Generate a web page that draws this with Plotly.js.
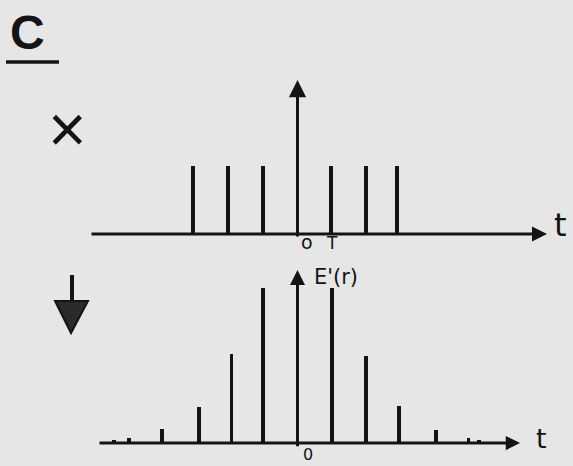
<!DOCTYPE html>
<html>
<head>
<meta charset="utf-8">
<script src="https://cdn.plot.ly/plotly-3.0.1.min.js"></script>
<style>
  html, body { margin: 0; padding: 0; background: #e6e6e6; }
  #chart { width: 573px; height: 466px; }
</style>
</head>
<body>
<div id="chart"></div>
<script>
// Sampling comb (upper row): pulse positions in units of T and their heights
const combT = [-3.05, -2.03, -1.01, 0, 0.98, 2.0, 2.91];
const combHeight = [1, 1, 1, 1, 1, 1, 1];

// Sampled correlation E'(r) (lower row): pulse positions in units of T and heights
const sampledT = [-4.93, -3.96, -2.88, -1.92, -1.01, 1.01, 2.0, 2.97, 4.05, 4.99];
const sampledHeight = [0.032, 0.09, 0.235, 0.574, 1.0, 1.0, 0.56, 0.24, 0.084, 0.03];

// Trailing dots hinting that the pulses continue
const tailT = [-5.37, 5.31];
const tailHeight = [0.02, 0.02];

// Tick labels
const topTickLabels = ['o', 'T'];
const topTickPos = [0.28, 1.0];
const bottomTickLabel = '0';

const INK = '#141414';
const SCALE = 34.2;          // pixels per T along t
const X0 = 297.5;            // pixel column of t = 0

const xRange = [-X0 / SCALE, (573 - X0) / SCALE];
// upper row: baseline at pixel row 234, 68 px per unit height
const yTopRange = [-(466 - 234) / 68, 234 / 68];
// lower row: baseline at pixel row 443, 155 px per unit height
const yBotRange = [-(466 - 443) / 155, 443 / 155];

const stem = (x, y, yaxis, w) => ({
  type: 'bar', x: x, y: y, yaxis: yaxis, width: w,
  marker: { color: INK, line: { width: 0 } },
  hoverinfo: 'skip', showlegend: false
});

const data = [
  stem(combT, combHeight, 'y', 0.1),
  stem(sampledT, sampledHeight, 'y2', 0.095),
  stem(tailT, tailHeight, 'y2', 0.12)
];

const arrow = (xTip, yTip, xTail, yTail, yref, w, size) => ({
  x: xTip, y: yTip, ax: xTail, ay: yTail,
  xref: 'x', yref: yref, axref: 'x', ayref: yref,
  text: '', showarrow: true, arrowhead: 2, arrowsize: size,
  arrowwidth: w, arrowcolor: INK, standoff: 0, startstandoff: 0
});

const label = (text, x, y, size, xref, yref, family, weight) => ({
  text: text, x: x, y: y, xref: xref, yref: yref,
  xanchor: 'center', yanchor: 'middle', borderpad: 0,
  showarrow: false,
  font: { family: family || 'DejaVu Sans', size: size, color: INK, weight: weight || 'normal' }
});

const annotations = [
  // upper row axes
  arrow((547 - X0) / SCALE, 0, (90 - X0) / SCALE, 0, 'y', 3, 1.0),
  arrow(0, (234 - 80) / 68, 0, -0.06, 'y', 3, 1.15),
  // lower row axes
  arrow((520 - X0) / SCALE, 0, (98 - X0) / SCALE, 0, 'y2', 3, 0.95),
  arrow(0, (443 - 270) / 155, 0, -0.03, 'y2', 3, 1.0),

  // axis names
  label('t', (560 - X0) / SCALE, 0.13, 32, 'x', 'y'),
  label('t', (541 - X0) / SCALE, 0.03, 27, 'x', 'y2'),
  label("E'(r)", (336 - X0) / SCALE, (443 - 277) / 155, 21, 'x', 'y2'),

  // tick labels
  label(topTickLabels[0], topTickPos[0], -0.12, 19, 'x', 'y'),
  label(topTickLabels[1], topTickPos[1], -0.13, 17, 'x', 'y'),
  label(bottomTickLabel, 0.3, -0.074, 16, 'x', 'y2'),

  // panel letter and operator symbol
  label('C', 27 / 573, 1 - 33 / 466, 48, 'paper', 'paper', 'Liberation Sans', 'bold'),
  label('×', 67 / 573, 1 - 129 / 466, 66, 'paper', 'paper', 'Liberation Sans')
];

const shapes = [
  // underline of the panel letter
  { type: 'line', xref: 'paper', yref: 'paper',
    x0: 6 / 573, x1: 59 / 573, y0: 1 - 62 / 466, y1: 1 - 62 / 466,
    line: { color: INK, width: 3.5 } },
  // "results in" arrow between the rows
  { type: 'line', xref: 'paper', yref: 'paper',
    x0: 72 / 573, x1: 72 / 573, y0: 1 - 275 / 466, y1: 1 - 302 / 466,
    line: { color: INK, width: 4 } },
  { type: 'path', xref: 'paper', yref: 'paper',
    path: 'M ' + (55 / 573) + ' ' + (1 - 301 / 466) +
          ' L ' + (88 / 573) + ' ' + (1 - 301 / 466) +
          ' L ' + (71 / 573) + ' ' + (1 - 333 / 466) + ' Z',
    fillcolor: '#2a2a2a', line: { color: INK, width: 2 } }
];

const hidden = { visible: false, fixedrange: true };

const layout = {
  width: 573, height: 466,
  margin: { l: 0, r: 0, t: 0, b: 0 },
  paper_bgcolor: '#e6e6e6', plot_bgcolor: 'rgba(0,0,0,0)',
  bargap: 0,
  xaxis: Object.assign({ range: xRange, domain: [0, 1] }, hidden),
  yaxis: Object.assign({ range: yTopRange, domain: [0, 1] }, hidden),
  yaxis2: Object.assign({ range: yBotRange, domain: [0, 1], overlaying: 'y', anchor: 'x' }, hidden),
  annotations: annotations,
  shapes: shapes,
  showlegend: false
};

Plotly.newPlot('chart', data, layout, { staticPlot: true, displayModeBar: false });
</script>
</body>
</html>
